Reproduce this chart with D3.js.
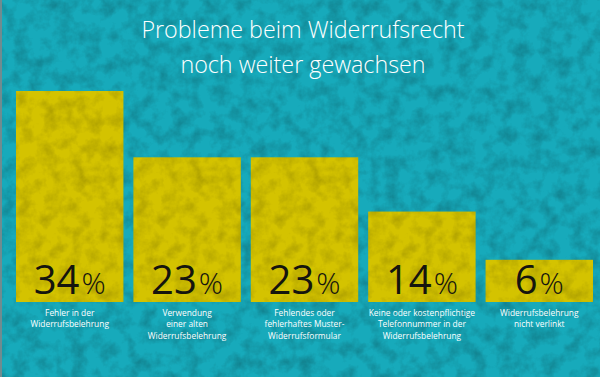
<html>
<head>
<meta charset="UTF-8"/>
<script src="https://d3js.org/d3.v7.min.js"></script>
<style>
body { margin: 0; background: #16a9b8; }
text { font-family: "Open Sans", sans-serif; }
</style>
</head>
<body>
<svg id='big' width=600 height=377></svg>
<script>
'use strict';

var titleLines = ['Probleme beim Widerrufsrecht', 'noch weiter gewachsen'];
var values = [34, 23, 23, 14, 6];
var labels = [
	['Fehler in der', 'Widerrufsbelehrung'],
	['Verwendung', 'einer alten', 'Widerrufsbelehrung'],
	['Fehlendes oder', 'fehlerhaftes Muster-', 'Widerrufsformular'],
	['Keine oder kostenpflichtige', 'Telefonnummer in der', 'Widerrufsbelehrung'],
	['Widerrufsbelehrung', 'nicht verlinkt']
];

var svg = d3.select('#big');
var width = +svg.attr('width');
var height = +svg.attr('height');

var defs = svg.append('defs');
// grunge texture, fine grain
var f = defs.append('filter').attr('id', 'grunge')
	.attr('x', 0).attr('y', 0).attr('width', '100%').attr('height', '100%');
f.append('feTurbulence').attr('type', 'fractalNoise')
	.attr('baseFrequency', 0.07).attr('numOctaves', 4).attr('seed', 7);
f.append('feColorMatrix').attr('type', 'matrix')
	.attr('values', '0 0 0 0 0  0 0 0 0 0  0 0 0 0 0  0 0 0 -1.4 0.85');
f.append('feComposite').attr('in2', 'SourceGraphic').attr('operator', 'in');

// background
svg.append('rect').attr('width', width).attr('height', height).attr('fill', '#17aabb');
svg.append('rect').attr('width', width).attr('height', height)
	.attr('fill', '#0a6c78').attr('opacity', 0.3).attr('filter', 'url(#grunge)');
svg.append('rect').attr('width', 2).attr('height', height).attr('fill', '#6f8c90');

var sx = d3.scaleBand().domain(d3.range(values.length))
	.range([16, 593]).paddingInner(0.085);
var sy = d3.scaleLinear().domain([-1, 34]).range([302, 91]);

svg.append('g').selectAll('text')
	.data(titleLines).enter()
	.append('text')
	.attr('x', 303)
	.attr('y', function(d, i){ return 38 + i * 35; })
	.attr('text-anchor', 'middle')
	.attr('fill', '#ffffff')
	.attr('font-size', 23.3)
	.attr('font-weight', 300)
	.text(function(d){ return d; });

var cells = svg.selectAll('.cell').data(values).enter()
	.append('g')
	.attr('class', 'cell')
	.attr('transform', function(d, i){ return 'translate(' + sx(i) + ',0)'; });

cells.append('rect')
	.attr('y', function(d){ return sy(d); })
	.attr('width', sx.bandwidth())
	.attr('height', function(d){ return sy(-1) - sy(d); })
	.attr('fill', '#d4c300');

cells.append('rect')
	.attr('y', function(d){ return sy(d); })
	.attr('width', sx.bandwidth())
	.attr('height', function(d){ return sy(-1) - sy(d); })
	.attr('fill', '#6f6400')
	.attr('opacity', 0.25)
	.attr('filter', 'url(#grunge)');

var pct = cells.append('text')
	.attr('x', sx.bandwidth() / 2)
	.attr('y', 294)
	.attr('text-anchor', 'middle')
	.attr('fill', '#15150e');
pct.append('tspan').attr('font-size', 40)
	.text(function(d){ return d; });
pct.append('tspan').attr('font-size', 30).attr('font-weight', 300)
	.attr('dx', 2).text('%');

cells.each(function(d, i){
	d3.select(this).append('text')
		.attr('text-anchor', 'middle')
		.attr('fill', '#ffffff')
		.attr('font-size', 8.4)
		.selectAll('tspan')
		.data(labels[i]).enter()
		.append('tspan')
		.attr('x', sx.bandwidth() / 2)
		.attr('y', function(e, j){ return 315.5 + j * 11.8; })
		.text(function(e){ return e; });
});
</script>
</body>
</html>
